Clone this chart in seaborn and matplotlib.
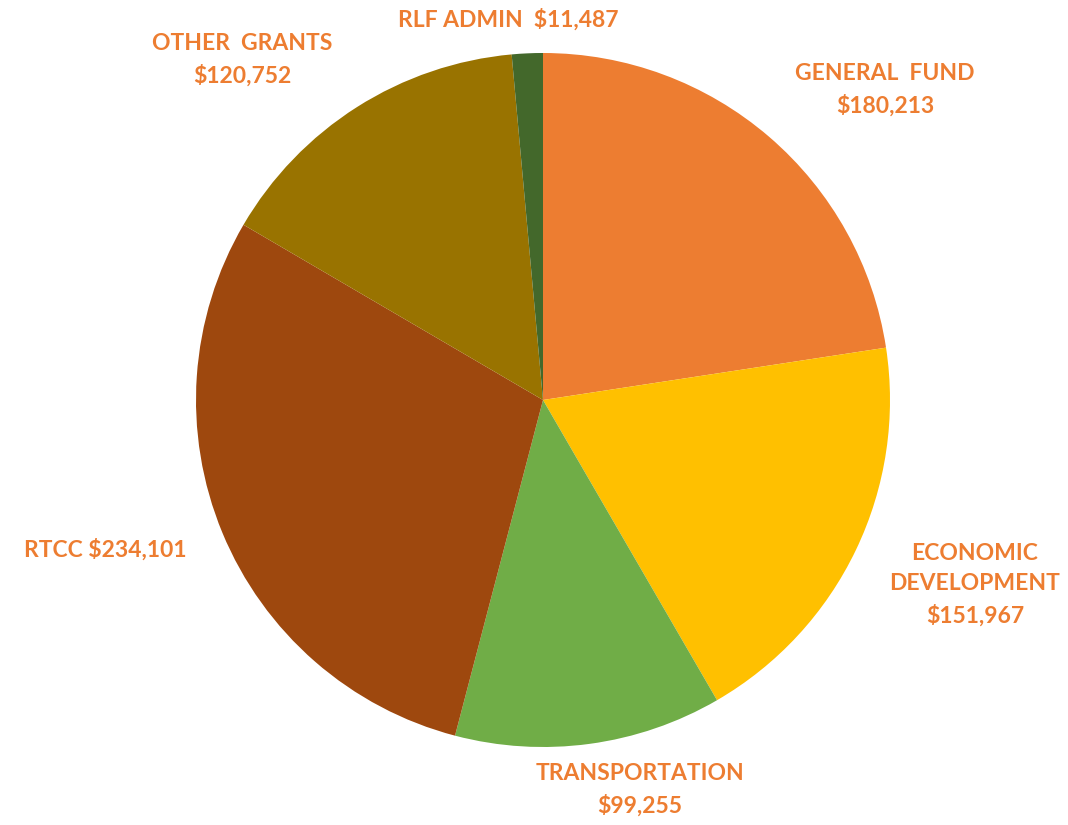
import matplotlib
matplotlib.use("Agg")
import matplotlib.pyplot as plt
import seaborn as sns

# budget categories, clockwise from 12 o'clock
categories = ["GENERAL  FUND", "ECONOMIC\nDEVELOPMENT", "TRANSPORTATION",
              "RTCC", "OTHER  GRANTS", "RLF ADMIN "]
amounts = [180213, 151967, 99255, 234101, 120752, 11487]
colors = ["#ED7D31", "#FFC000", "#70AD47", "#9E480E", "#997300", "#43682B"]

# where excel put the labels (data units, pie radius = 1)
label_xy = [(0.986, 0.893), (1.245, -0.533), (0.280, -1.124),
            (-1.262, -0.432), (-0.867, 0.980), (-0.101, 1.095)]
one_line = [False, False, False, True, False, True]

sns.set_theme(style="white")
plt.rcParams['font.family'] = ['Lato', 'DejaVu Sans']

fig = plt.figure(figsize=(10.68, 8.25), dpi=100)
ax = fig.add_axes([0, 0, 1, 1])

ax.pie(amounts, colors=colors, startangle=90, counterclock=False,
       radius=1.0, wedgeprops=dict(linewidth=0))

for name, val, (x, y), single in zip(categories, amounts, label_xy, one_line):
    sep = " " if single else "\n"
    ax.text(x, y, f"{name}{sep}${val:,}", ha="center", va="center",
            color="#ED7D31", fontsize=16.5, fontweight="bold", linespacing=1.55)

ax.set_xlim(-543 / 347, (1068 - 543) / 347)
ax.set_ylim(-(825 - 400) / 347, 400 / 347)
ax.set_aspect("auto")
ax.axis("off")

fig.savefig("out.png", dpi=100, facecolor="white")
